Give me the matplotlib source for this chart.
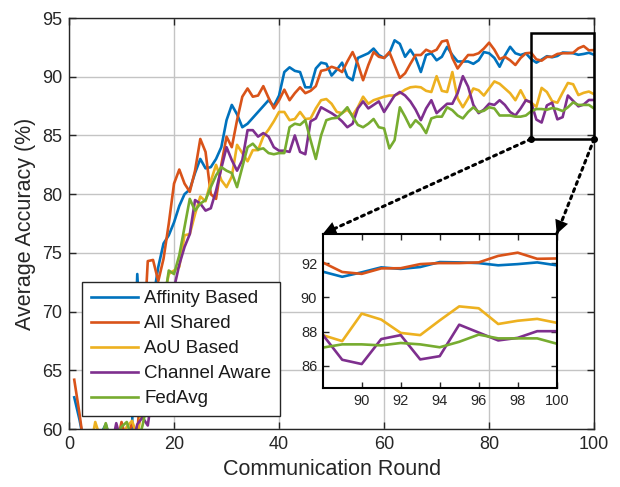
import numpy as np
import matplotlib
matplotlib.use('Agg')
from matplotlib import pyplot as plt
from matplotlib.patches import Rectangle, ConnectionPatch

plt.rcParams['font.family'] = ['Liberation Sans', 'DejaVu Sans']

rounds = np.arange(1, 101)

affinity = [62.7, 60.8, 58.5, 57.5, 58.8, 59.5, 60.4, 58.9, 57.8, 59.2,
            58.6, 60.2, 73.2, 64.5, 67.5, 71.0, 73.8, 75.8, 76.5, 77.6,
            79.0, 80.0, 80.4, 81.8, 83.0, 82.2, 82.3, 83.0, 84.0, 86.3,
            87.6, 86.8, 85.7, 86.0, 86.5, 87.0, 87.5, 88.0, 87.5, 88.4,
            90.4, 90.8, 90.5, 90.4, 89.1, 89.1, 90.7, 91.2, 91.1, 90.1,
            90.6, 91.2, 90.0, 89.7, 91.6, 91.8, 92.0, 92.4, 91.85, 91.6,
            92.0, 93.1, 92.8, 91.7, 92.3, 91.6, 90.4, 91.85, 92.0, 91.4,
            91.7, 92.55, 91.85, 91.3, 91.3, 91.3, 91.1, 91.4, 92.1, 92.0,
            91.6, 90.85, 91.8, 92.55, 92.0, 91.85, 92.0, 91.5, 91.2, 91.46,
            91.75, 91.66, 91.77, 92.06, 92.04, 92.0, 91.87, 91.94, 92.04, 91.87]

all_shared = [64.2, 61.3, 58.0, 57.0, 58.2, 59.0, 58.0, 59.4, 58.5, 60.6,
              59.0, 60.5, 59.5, 66.0, 74.3, 74.4, 72.6, 74.5, 77.5, 80.9,
              82.1, 80.9, 80.2, 82.0, 84.7, 83.6, 80.0, 79.6, 82.5, 84.9,
              84.0, 86.3, 88.3, 89.0, 88.3, 88.4, 89.2, 88.2, 87.3, 88.0,
              88.9, 88.0, 88.6, 89.1, 88.6, 88.8, 89.2, 90.5, 90.6, 90.85,
              90.7, 90.4, 91.3, 92.1, 91.1, 89.7, 91.0, 92.1, 91.7, 91.6,
              92.1, 91.0, 89.9, 90.3, 91.1, 91.85, 91.85, 92.3, 92.1, 92.3,
              93.0, 93.1, 91.6, 90.7, 91.3, 91.85, 91.85, 92.0, 92.4, 92.9,
              92.3, 91.5, 91.7, 91.4, 91.0, 91.6, 92.0, 92.04, 91.48, 91.37,
              91.69, 91.7, 91.94, 92.0, 92.0, 92.04, 92.42, 92.61, 92.25, 92.27]

aou = [57.5, 58.0, 59.0, 58.2, 60.6, 59.2, 58.5, 59.8, 58.4, 59.0,
       60.2, 60.7, 59.4, 62.0, 64.0, 66.5, 69.0, 71.0, 73.2, 73.5,
       73.8, 76.5, 76.6, 78.3, 79.8, 79.4, 81.1, 82.5, 81.2, 80.6,
       81.5, 84.2, 83.5, 82.8, 83.75, 83.75, 84.9, 85.5, 86.2, 87.0,
       87.0, 86.3, 86.4, 87.0, 86.4, 86.45, 87.3, 88.0, 88.1, 87.7,
       87.0, 86.9, 87.2, 86.7, 87.4, 88.3, 87.7, 88.0, 88.15, 88.3,
       88.4, 88.4, 88.6, 88.9, 89.1, 89.15, 89.1, 88.8, 88.7, 90.05,
       88.8, 88.7, 90.4, 88.15, 87.4, 88.15, 89.0, 88.85, 88.4, 89.0,
       89.6, 89.4, 89.0, 88.6, 88.0, 88.85, 88.0, 87.79, 87.44, 89.05,
       88.7, 87.92, 87.79, 88.65, 89.47, 89.36, 88.44, 88.63, 88.74, 88.51]

channel = [57.0, 57.5, 58.0, 57.0, 58.3, 57.6, 59.0, 58.2, 60.5, 58.8,
           59.5, 58.4, 60.4, 61.0, 60.3, 63.5, 66.0, 68.0, 70.0, 72.0,
           74.0, 75.5, 76.6, 79.5, 79.2, 78.6, 78.8, 80.3, 82.2, 84.0,
           82.9, 82.0, 82.9, 85.45, 85.45, 84.9, 85.2, 84.9, 84.0, 83.7,
           83.7, 83.6, 85.0, 83.6, 83.4, 86.2, 86.45, 87.4, 87.15, 86.9,
           86.6, 86.2, 85.7, 86.0, 87.3, 87.9, 87.3, 87.6, 87.9, 87.0,
           87.7, 88.4, 88.7, 88.4, 87.9, 87.2, 86.3, 87.3, 88.0, 86.9,
           87.3, 87.7, 87.7, 88.6, 90.05, 89.15, 87.6, 86.9, 87.2, 87.7,
           87.6, 88.0, 87.6, 87.0, 86.7, 87.3, 88.0, 87.82, 86.35, 86.1,
           87.56, 87.79, 86.37, 86.56, 88.4, 87.94, 87.48, 87.63, 88.02, 88.02]

fedavg = [58.0, 57.4, 58.5, 59.3, 58.0, 59.0, 60.5, 58.8, 59.5, 60.2,
          60.6, 59.2, 58.7, 60.3, 62.5, 65.0, 68.0, 70.5, 73.5, 73.2,
          74.8, 77.2, 79.6, 78.6, 79.2, 79.5, 80.6, 81.6, 82.3, 82.0,
          81.8, 80.6, 82.3, 84.0, 84.3, 83.8, 83.9, 83.5, 83.4, 83.5,
          83.5, 85.7, 86.0, 85.9, 86.3, 84.6, 83.0, 85.0, 86.3, 86.45,
          86.5, 86.9, 87.4, 86.6, 85.9, 85.7, 86.0, 86.4, 85.7, 85.6,
          83.9, 84.6, 87.4, 86.6, 85.7, 86.3, 85.9, 85.2, 86.45, 86.6,
          86.6, 87.4, 87.15, 86.7, 86.45, 87.0, 87.4, 87.0, 87.1, 87.4,
          87.3, 86.7, 86.7, 86.7, 86.6, 86.6, 86.7, 87.06, 87.25, 87.25,
          87.19, 87.33, 87.25, 87.08, 87.4, 87.82, 87.6, 87.6, 87.6, 87.29]

names = ['Affinity Based', 'All Shared', 'AoU Based', 'Channel Aware', 'FedAvg']
colors = ['#0072BD', '#D95319', '#EDB120', '#7E2F8E', '#77AC30']
series = [affinity, all_shared, aou, channel, fedavg]

# zoomed window
zx0, zx1 = 88, 100
zy0, zy1 = 84.7, 93.7

fig = plt.figure(figsize=(6.2, 4.87), dpi=100)
ax = fig.add_axes([0.1113, 0.119, 0.847, 0.844])

for s, c, n in zip(series, colors, names):
    ax.plot(rounds, s, color=c, lw=1.9, label=n)

ax.set_xlim(0, 100)
ax.set_ylim(60, 95)
ax.set_xticks(np.arange(0, 101, 20))
ax.set_yticks(np.arange(60, 96, 5))
ax.grid(True, color='#c4c4c4', lw=1.0)
ax.set_axisbelow(True)
ax.tick_params(direction='in', top=True, right=True, length=5, width=1.0,
               labelsize=13, pad=5, colors='#262626')
for sp in ax.spines.values():
    sp.set_linewidth(1.0)
    sp.set_color('#262626')
ax.set_xlabel('Communication Round', fontsize=15.5, color='#262626')
ax.set_ylabel('Average Accuracy (%)', fontsize=15.5, color='#262626')

leg = ax.legend(loc='upper left', bbox_to_anchor=(82.3 / 620, 1 - 281.7 / 487),
                bbox_transform=fig.transFigure, fontsize=13.5, frameon=True,
                fancybox=False, edgecolor='#262626', framealpha=1,
                borderaxespad=0, borderpad=0.45, labelspacing=0.42,
                handlelength=2.5, handletextpad=0.35)
leg.get_frame().set_linewidth(1.0)
for t in leg.get_texts():
    t.set_color('#1a1a1a')

ax.add_patch(Rectangle((zx0, zy0), zx1 - zx0, zy1 - zy0, fill=False,
                       ec='black', lw=1.8, zorder=5, clip_on=False))
ax.plot([zx0, zx1], [zy0, zy0], 'o', color='black', ms=4, clip_on=False, zorder=6)

# inset
axi = fig.add_axes([322.7 / 620, 1 - 388 / 487, 234 / 620, 154 / 487])
axi.patch.set_alpha(0)
for s, c in zip(series, colors):
    axi.plot(rounds, s, color=c, lw=1.9)
axi.set_xlim(zx0, zx1)
axi.set_ylim(zy0, zy1)
axi.set_xticks(np.arange(90, 101, 2))
axi.set_yticks(np.arange(86, 93, 2))
axi.tick_params(direction='in', top=True, right=True, length=4, width=1.0,
                labelsize=10.5, pad=4, colors='#262626')
for sp in axi.spines.values():
    sp.set_linewidth(1.5)

# dotted connectors with arrow heads at the inset corners
for (px, py), (qx, qy) in [((zx0, zy0), (0, 1)), ((zx1, zy0), (1, 1))]:
    con = ConnectionPatch(xyA=(px, py), coordsA=ax.transData,
                          xyB=(qx, qy), coordsB=axi.transAxes,
                          linestyle=(0, (1, 1.5)), lw=2.2, color='black',
                          arrowstyle='-')
    fig.add_artist(con)
    head = ConnectionPatch(xyA=(px, py), coordsA=ax.transData,
                           xyB=(qx, qy), coordsB=axi.transAxes,
                           arrowstyle='-|>,head_length=0.7,head_width=0.35',
                           lw=0, color='black', mutation_scale=14)
    fig.add_artist(head)

fig.savefig('out.png', dpi=100)
